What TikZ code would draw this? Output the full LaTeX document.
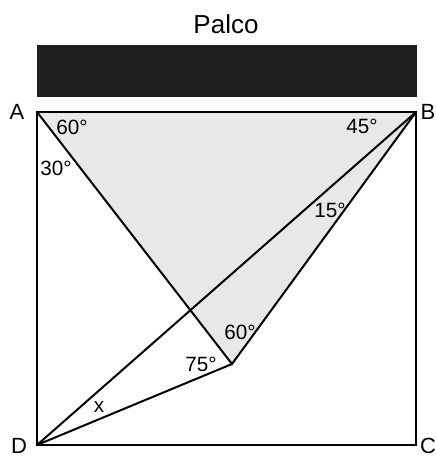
\documentclass[tikz,border=0pt]{standalone}
\usepackage{fontspec}
\setmainfont{Liberation Sans}
\usetikzlibrary{positioning}

\tikzset{
  ang/.style={font=\fontsize{15.5}{18}\selectfont, inner sep=0pt},
  corner/.style={font=\fontsize{16.5}{18}\selectfont, inner sep=0pt},
  side/.style={line width=1.9pt},
  cut/.style={line width=1.5pt}
}

\begin{document}
\begin{tikzpicture}[x=0.75pt,y=-0.75pt]
\useasboundingbox (0,0) rectangle (436,458);
% palco (stage)
\node[font=\fontsize{19.5}{22}\selectfont, inner sep=0pt] (palco) at (226,24) {Palco};
\fill[black!88] (37,45) rectangle (417,97);
% square ABCD and apex E
\coordinate (A) at (37,112);
\coordinate (B) at (416,112);
\coordinate (C) at (416,445);
\coordinate (D) at (37,445);
\coordinate (E) at (232,364);
\fill[gray!18] (A) -- (B) -- (E) -- cycle;
\draw[cut] (A) -- (E) -- (B);
\draw[cut] (D) -- (B);
\draw[cut] (D) -- (E);
\draw[side, line join=miter] (A) -- (B) -- (C) -- (D) -- cycle;
% vertex names
\node[corner] (nA) at (17,112) {A};
\node[corner] (nB) at (428,112) {B};
\node[corner] (nC) at (428,446) {C};
\node[corner] (nD) at (19,446) {D};
% angles
\node[ang] (aA1) at (72,127) {60°};
\node[ang] (aA2) at (56,168) {30°};
\node[ang] (aB1) at (362,126) {45°};
\node[ang] (aB2) at (330,210) {15°};
\node[ang] (aE1) at (240,332) {60°};
\node[ang] (aE2) at (201,364) {75°};
\node[ang] (ax) at (99,407) {x};
\end{tikzpicture}
\end{document}
